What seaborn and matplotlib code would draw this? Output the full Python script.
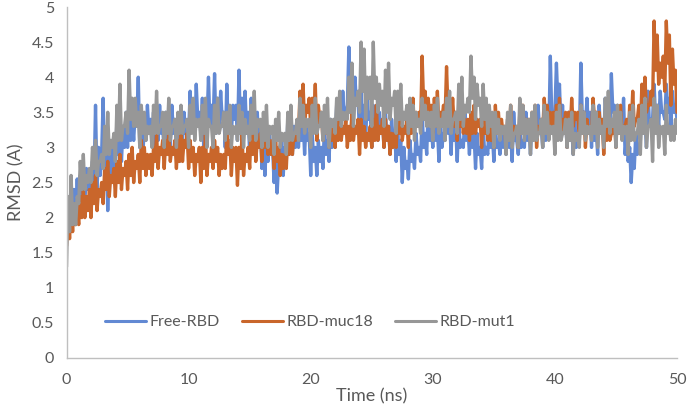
import numpy as np
import pandas as pd
import matplotlib
matplotlib.use("Agg")
import matplotlib.pyplot as plt
import seaborn as sns

# Time axis (ns), sampled every 0.125 ns (8 samples per ns, rows below = 1 ns each)
time_ns = np.arange(0, 50.001, 0.125)

free_rbd = [
    1.7, 2.3, 1.9, 2.5, 2.1, 2.4, 2.0, 2.55,
    2.0, 2.6, 2.3, 2.5, 2.2, 2.7, 2.4, 2.6,
    2.3, 2.8, 2.5, 3.6, 2.4, 3.0, 2.6, 2.9,
    3.7, 2.6, 3.2, 2.1, 3.0, 2.5, 3.1, 2.7,
    2.7, 3.4, 2.9, 3.2, 2.8, 3.3, 3.0, 3.5,
    3.0, 3.6, 3.1, 3.4, 3.1, 3.5, 3.3, 4.0,
    3.0, 3.5, 2.9, 3.3, 3.1, 3.6, 3.2, 3.4,
    3.1, 3.5, 3.0, 3.4, 3.1, 3.6, 3.2, 3.3,
    2.9, 3.5, 3.1, 3.3, 3.0, 3.6, 3.2, 3.4,
    3.0, 3.4, 2.8, 3.2, 3.1, 3.5, 3.2, 3.3,
    3.2, 3.8, 3.3, 3.6, 3.2, 3.9, 3.4, 3.5,
    3.2, 3.7, 2.9, 3.4, 3.3, 4.0, 3.3, 3.6,
    3.3, 4.05, 3.2, 3.7, 3.3, 3.8, 3.4, 3.5,
    3.0, 3.9, 3.3, 3.5, 3.2, 3.6, 3.4, 3.6,
    3.1, 4.1, 3.2, 3.7, 3.3, 3.8, 3.2, 3.5,
    2.9, 3.7, 3.0, 3.4, 3.1, 3.5, 3.0, 3.3,
    2.7, 3.3, 2.6, 3.1, 2.8, 3.2, 2.9, 3.0,
    2.5, 2.9, 2.35, 2.8, 2.7, 3.1, 2.6, 3.0,
    2.8, 3.4, 3.0, 3.3, 2.9, 3.3, 3.0, 3.1,
    3.0, 3.5, 3.1, 3.4, 2.9, 3.4, 3.1, 3.2,
    2.6, 3.2, 2.8, 3.0, 2.6, 3.1, 2.8, 3.0,
    2.7, 3.3, 2.9, 3.1, 2.8, 3.4, 3.0, 3.2,
    3.0, 3.6, 3.2, 3.4, 3.3, 3.8, 3.4, 3.5,
    3.6, 4.43, 3.5, 3.9, 3.4, 4.0, 3.6, 3.7,
    3.2, 3.8, 3.3, 3.6, 3.1, 3.7, 3.4, 3.5,
    3.0, 3.6, 3.2, 3.4, 3.1, 3.5, 3.2, 3.4,
    3.0, 3.5, 3.1, 3.3, 2.9, 3.4, 3.1, 3.2,
    2.8, 3.2, 2.9, 3.1, 2.5, 3.0, 2.7, 2.8,
    2.55, 3.1, 2.8, 2.9, 2.7, 3.2, 2.9, 3.0,
    2.8, 3.5, 3.0, 3.2, 2.9, 3.6, 3.1, 3.3,
    3.0, 3.5, 3.1, 3.3, 2.8, 3.4, 3.0, 3.2,
    3.1, 3.6, 3.2, 3.4, 2.9, 3.5, 3.1, 3.3,
    2.8, 3.4, 3.0, 3.1, 3.0, 3.5, 3.1, 3.3,
    2.9, 3.4, 3.0, 3.2, 2.7, 3.2, 2.9, 3.0,
    2.7, 3.3, 2.9, 3.0, 2.9, 3.4, 3.0, 3.2,
    2.8, 3.3, 3.0, 3.1, 2.9, 3.3, 3.0, 3.2,
    2.9, 3.4, 3.0, 3.2, 2.8, 3.5, 3.1, 3.1,
    2.9, 3.3, 3.0, 3.1, 3.0, 3.5, 3.1, 3.3,
    2.9, 3.4, 3.1, 3.2, 3.1, 3.6, 3.2, 3.3,
    3.0, 3.5, 3.1, 3.3, 3.2, 4.3, 3.4, 3.5,
    3.5, 4.2, 3.6, 3.9, 3.2, 3.6, 3.2, 3.4,
    3.0, 3.5, 3.1, 3.3, 2.9, 3.4, 3.0, 3.2,
    3.1, 4.2, 3.4, 3.5, 3.3, 3.7, 3.2, 3.5,
    3.0, 3.5, 3.1, 3.3, 2.9, 3.6, 3.2, 3.3,
    3.1, 3.7, 3.3, 3.4, 3.2, 4.05, 3.5, 3.6,
    3.3, 3.6, 3.2, 3.5, 3.3, 3.7, 2.9, 3.2,
    2.8, 3.0, 2.5, 2.9, 2.7, 3.2, 2.9, 3.0,
    3.1, 3.6, 3.2, 3.4, 3.0, 3.8, 3.3, 3.4,
    3.4, 3.9, 3.4, 3.6, 3.3, 3.8, 3.5, 3.5,
    3.4, 3.9, 3.5, 3.7, 3.3, 3.8, 3.5, 3.6,
    3.4,
]

rbd_muc18 = [
    1.6, 2.0, 1.7, 2.1, 1.8, 2.2, 1.9, 2.1,
    1.9, 2.3, 2.0, 2.4, 2.0, 2.3, 2.1, 2.4,
    2.0, 2.5, 2.2, 2.6, 2.1, 2.4, 2.3, 2.5,
    2.2, 2.7, 2.4, 2.8, 2.3, 2.6, 2.5, 2.7,
    2.3, 2.8, 2.5, 2.9, 2.4, 2.7, 2.6, 2.8,
    2.4, 2.9, 2.6, 3.0, 2.5, 2.8, 2.7, 2.9,
    2.5, 3.1, 2.7, 3.0, 2.6, 2.9, 2.7, 2.9,
    2.6, 3.0, 2.8, 3.2, 2.7, 3.0, 2.9, 3.1,
    2.7, 3.1, 2.9, 3.2, 2.8, 3.0, 2.9, 3.1,
    2.7, 3.1, 2.8, 3.3, 2.8, 3.1, 3.0, 3.2,
    2.7, 3.1, 2.8, 3.0, 2.6, 2.9, 2.8, 3.0,
    2.5, 3.0, 2.7, 3.2, 2.6, 2.9, 2.8, 3.0,
    2.7, 3.1, 2.8, 3.0, 2.6, 2.9, 2.7, 2.9,
    2.7, 3.2, 2.9, 3.1, 2.6, 3.0, 2.8, 3.0,
    2.46, 3.0, 2.7, 3.2, 2.6, 2.9, 2.8, 3.0,
    2.7, 3.3, 2.9, 3.4, 2.8, 3.1, 3.0, 3.2,
    2.8, 3.3, 3.0, 3.2, 2.9, 3.1, 2.9, 3.1,
    2.7, 3.1, 2.8, 3.0, 2.6, 2.9, 2.7, 2.9,
    2.7, 3.2, 2.9, 3.4, 2.9, 3.2, 3.1, 3.3,
    3.2, 3.8, 3.4, 3.9, 3.3, 3.6, 3.5, 3.7,
    3.3, 3.7, 3.4, 3.9, 3.1, 3.6, 3.4, 3.5,
    3.1, 3.5, 3.2, 3.4, 3.0, 3.3, 3.1, 3.3,
    3.0, 3.4, 3.1, 3.5, 3.1, 3.3, 3.2, 3.4,
    3.0, 3.3, 3.1, 3.5, 3.1, 3.3, 3.2, 3.4,
    2.9, 3.4, 3.1, 3.3, 3.0, 3.2, 3.1, 3.3,
    3.0, 3.4, 3.1, 3.6, 3.1, 3.3, 3.2, 3.4,
    3.0, 3.4, 3.1, 3.3, 2.9, 3.2, 3.0, 3.2,
    3.0, 3.5, 3.2, 3.4, 3.1, 3.3, 3.2, 3.4,
    3.0, 3.6, 3.2, 3.7, 3.2, 3.5, 3.3, 3.5,
    3.3, 4.3, 3.6, 3.8, 3.4, 3.7, 3.4, 3.6,
    3.2, 3.7, 3.3, 3.8, 3.3, 3.5, 3.4, 3.6,
    3.4, 4.15, 3.5, 3.7, 3.3, 3.7, 3.3, 3.5,
    3.1, 3.6, 3.3, 3.5, 3.2, 3.4, 3.2, 3.4,
    3.1, 3.5, 3.2, 3.6, 3.2, 3.4, 3.3, 3.4,
    3.0, 3.5, 3.2, 3.4, 3.1, 3.3, 3.1, 3.3,
    3.0, 3.6, 3.2, 3.5, 3.2, 3.4, 3.2, 3.3,
    3.0, 3.4, 3.1, 3.6, 3.1, 3.3, 3.2, 3.3,
    3.0, 3.5, 3.2, 3.6, 3.2, 3.4, 3.3, 3.4,
    3.1, 3.5, 3.2, 3.6, 3.0, 3.3, 3.2, 3.4,
    3.2, 3.7, 3.4, 3.6, 3.3, 3.5, 3.3, 3.5,
    3.1, 3.6, 3.3, 3.7, 3.2, 3.4, 3.3, 3.5,
    3.0, 3.5, 3.2, 3.7, 3.3, 3.5, 3.4, 3.5,
    3.1, 3.6, 3.2, 3.5, 3.0, 3.4, 3.2, 3.3,
    3.2, 3.7, 3.4, 3.5, 3.3, 3.5, 3.2, 3.4,
    2.9, 3.4, 3.1, 3.6, 3.1, 3.2, 3.2, 3.4,
    3.0, 3.5, 3.2, 3.6, 3.2, 3.3, 3.3, 3.4,
    3.1, 3.6, 3.3, 3.8, 3.3, 3.4, 3.4, 3.6,
    3.2, 3.9, 3.5, 4.0, 3.5, 3.6, 3.6, 3.8,
    3.6, 4.8, 4.1, 4.6, 3.9, 4.2, 4.0, 4.3,
    3.8, 4.8, 4.2, 4.6, 3.6, 4.4, 3.9, 4.1,
    3.5,
]

rbd_mut1 = [
    1.3, 2.3, 1.8, 2.6, 1.9, 2.2, 1.9, 2.3,
    2.2, 2.8, 2.4, 2.9, 2.4, 2.6, 2.5, 2.7,
    2.5, 3.0, 2.7, 3.1, 2.6, 2.8, 2.8, 2.9,
    2.7, 3.3, 2.9, 3.5, 2.9, 3.1, 3.0, 3.2,
    2.8, 3.6, 3.1, 3.9, 3.1, 3.3, 3.3, 3.5,
    3.2, 4.1, 3.4, 3.7, 3.3, 3.7, 3.3, 3.5,
    3.0, 3.6, 3.2, 3.5, 3.1, 3.3, 3.2, 3.3,
    3.0, 3.6, 3.2, 3.8, 3.2, 3.3, 3.3, 3.5,
    3.0, 3.5, 3.2, 3.7, 3.1, 3.3, 3.3, 3.4,
    3.0, 3.5, 3.2, 3.6, 3.2, 3.3, 3.3, 3.4,
    3.0, 3.6, 3.2, 3.7, 3.1, 3.4, 3.3, 3.4,
    3.1, 3.6, 3.2, 3.7, 3.0, 3.4, 3.3, 3.3,
    3.0, 3.6, 3.2, 3.7, 3.2, 3.3, 3.3, 3.5,
    3.1, 3.5, 3.2, 3.6, 3.0, 3.3, 3.2, 3.3,
    3.1, 3.6, 3.2, 3.5, 3.0, 3.4, 3.2, 3.3,
    3.1, 3.6, 3.2, 3.8, 3.1, 3.4, 3.3, 3.4,
    3.0, 3.5, 3.1, 3.6, 3.0, 3.3, 3.2, 3.3,
    2.9, 3.4, 3.1, 3.5, 3.0, 3.2, 3.1, 3.2,
    2.9, 3.5, 3.1, 3.6, 3.1, 3.2, 3.2, 3.4,
    3.1, 3.7, 3.3, 3.6, 3.2, 3.4, 3.3, 3.4,
    3.0, 3.6, 3.2, 3.7, 3.2, 3.3, 3.3, 3.5,
    3.1, 3.6, 3.2, 3.7, 3.0, 3.4, 3.3, 3.4,
    3.2, 3.7, 3.4, 3.8, 3.3, 3.5, 3.4, 3.5,
    3.4, 4.0, 3.5, 4.2, 3.3, 3.7, 3.6, 3.8,
    3.5, 4.5, 3.8, 4.4, 3.4, 4.0, 3.7, 4.0,
    3.3, 4.5, 3.7, 4.0, 3.5, 3.9, 3.6, 3.8,
    3.3, 4.1, 3.5, 4.2, 3.4, 3.7, 3.6, 3.8,
    3.2, 3.8, 3.4, 3.9, 3.3, 3.5, 3.4, 3.6,
    3.2, 3.7, 3.3, 3.6, 3.1, 3.5, 3.3, 3.4,
    3.2, 3.7, 3.4, 3.6, 3.3, 3.5, 3.3, 3.5,
    3.1, 3.6, 3.3, 3.7, 3.2, 3.4, 3.3, 3.5,
    3.1, 3.7, 3.3, 3.8, 3.2, 3.4, 3.4, 3.5,
    3.2, 3.9, 3.4, 4.0, 3.3, 3.6, 3.5, 3.7,
    3.5, 4.3, 3.7, 4.0, 3.4, 3.9, 3.6, 3.7,
    3.3, 3.9, 3.4, 3.7, 3.2, 3.6, 3.3, 3.5,
    3.0, 3.5, 3.2, 3.4, 3.1, 3.3, 3.2, 3.3,
    2.9, 3.5, 3.1, 3.6, 3.0, 3.2, 3.2, 3.3,
    3.0, 3.7, 3.2, 3.6, 3.1, 3.4, 3.2, 3.4,
    2.9, 3.5, 3.1, 3.6, 3.1, 3.2, 3.2, 3.4,
    3.0, 3.6, 3.2, 3.5, 3.1, 3.3, 3.2, 3.3,
    2.9, 3.5, 3.1, 3.6, 3.1, 3.2, 3.2, 3.4,
    3.0, 3.4, 3.1, 3.5, 2.9, 3.2, 3.1, 3.2,
    3.0, 3.6, 3.2, 3.5, 3.1, 3.3, 3.2, 3.3,
    3.1, 3.6, 3.2, 3.5, 3.0, 3.4, 3.2, 3.3,
    3.0, 3.7, 3.3, 3.8, 3.2, 3.4, 3.3, 3.5,
    3.0, 3.6, 3.2, 3.5, 3.1, 3.3, 3.2, 3.3,
    2.9, 3.5, 3.1, 3.6, 3.1, 3.2, 3.2, 3.4,
    2.9, 3.6, 3.2, 3.7, 3.0, 3.3, 3.3, 3.4,
    2.8, 3.7, 3.2, 3.6, 3.0, 3.3, 3.2, 3.3,
    2.9, 3.6, 3.2, 3.3, 3.1, 3.3, 3.1, 3.4,
    3.2,
]

series_names = ["Free-RBD", "RBD-muc18", "RBD-mut1"]
series_colors = ["#6289D3", "#C9662B", "#979797"]
x_ticks = [0, 10, 20, 30, 40, 50]
y_ticks = [0, 0.5, 1, 1.5, 2, 2.5, 3, 3.5, 4, 4.5, 5]
y_tick_labels = ["0", "0.5", "1", "1.5", "2", "2.5", "3", "3.5", "4", "4.5", "5"]

df = pd.concat([
    pd.DataFrame({"Time": time_ns, "RMSD": vals, "Series": name})
    for name, vals in zip(series_names, [free_rbd, rbd_muc18, rbd_mut1])
], ignore_index=True)

sns.set_theme(style="white")
plt.rcParams["font.family"] = ["Lato", "DejaVu Sans"]

fig = plt.figure(figsize=(6.88, 4.17), dpi=100)
ax = fig.add_axes([0.0967, 0.1415, 0.8873, 0.8417])

sns.lineplot(data=df, x="Time", y="RMSD", hue="Series", hue_order=series_names,
             palette=dict(zip(series_names, series_colors)), linewidth=2.4,
             ax=ax, estimator=None, sort=False)

ax.set_xlim(0, 50)
ax.set_ylim(0, 5)
ax.set_xticks(x_ticks)
ax.set_yticks(y_ticks)
ax.set_yticklabels(y_tick_labels)
label_color = "#595959"
ax.tick_params(axis="both", colors="#BFBFBF", labelcolor=label_color,
               labelsize=11.5, length=5, width=1, direction="out")
ax.tick_params(axis="x", pad=6)
ax.tick_params(axis="y", pad=4)
for s in ["top", "right"]:
    ax.spines[s].set_visible(False)
for s in ["left", "bottom"]:
    ax.spines[s].set_color("#BFBFBF")
    ax.spines[s].set_linewidth(1)

ax.set_xlabel("Time (ns)", fontsize=13, color=label_color, labelpad=1)
ax.set_ylabel("RMSD (A)", fontsize=13, color=label_color, labelpad=5)

handles, labels = ax.get_legend_handles_labels()
leg = ax.legend(handles, labels, loc="center", bbox_to_anchor=(0.399, 0.102),
                ncol=3, frameon=False, fontsize=11.5, handlelength=2.57,
                handletextpad=0.2, columnspacing=1.4, borderpad=0)
for line in leg.get_lines():
    line.set_linewidth(2.2)
for txt in leg.get_texts():
    txt.set_color(label_color)

fig.savefig("out.png", dpi=100)
